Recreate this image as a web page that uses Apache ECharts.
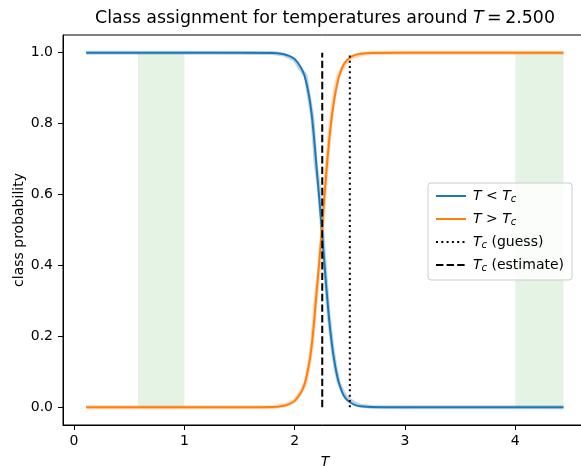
<!DOCTYPE html>
<html>
<head>
<meta charset="utf-8">
<script src="https://cdn.jsdelivr.net/npm/echarts@6/dist/echarts.min.js"></script>
<style>
  html, body { margin: 0; padding: 0; background: #fff; }
  #main { width: 581px; height: 466px; }
</style>
</head>
<body>
<div id="main"></div>
<script>
// temperatures and smoothed class probabilities
var temps = [0.11, 0.5, 1.0, 1.5, 1.8, 1.9, 1.95, 2.0, 2.05, 2.08, 2.1, 2.12, 2.14, 2.16, 2.18, 2.2, 2.22, 2.24,
             2.26, 2.28, 2.3, 2.32, 2.34, 2.36, 2.38, 2.4, 2.43, 2.46, 2.5, 2.55, 2.6, 2.7, 3.0, 3.5, 4.0, 4.437];
var probLow = [1.0, 1.0, 1.0, 1.0, 0.9995, 0.996, 0.991, 0.982, 0.962, 0.943, 0.923, 0.895, 0.86, 0.81, 0.745, 0.67, 0.6, 0.525,
               0.445, 0.365, 0.29, 0.225, 0.172, 0.13, 0.096, 0.07, 0.043, 0.026, 0.014, 0.006, 0.0026, 0.0005, 0.0, 0.0, 0.0, 0.0];
var probHigh = [0.0, 0.0, 0.0, 0.0, 0.0005, 0.004, 0.009, 0.018, 0.038, 0.057, 0.077, 0.105, 0.14, 0.19, 0.255, 0.33, 0.4, 0.475,
                0.555, 0.635, 0.71, 0.775, 0.828, 0.87, 0.904, 0.93, 0.957, 0.974, 0.986, 0.994, 0.9974, 0.9995, 1.0, 1.0, 1.0, 1.0];

// raw (noisy) probabilities drawn faintly underneath
var rawTemps = [0.11, 1.0, 1.8, 1.9, 2.0, 2.05, 2.1, 2.13, 2.16, 2.19, 2.22, 2.25, 2.28, 2.31, 2.34, 2.37, 2.4, 2.45,
                2.5, 2.55, 2.6, 2.7, 3.0, 4.437];
var rawLow = [1.0, 1.0, 0.999, 0.995, 0.98, 0.955, 0.935, 0.875, 0.82, 0.69, 0.62, 0.5, 0.37, 0.255, 0.175, 0.11, 0.07, 0.035,
              0.02, 0.01, 0.004, 0.001, 0.0, 0.0];
var rawHigh = [0.0, 0.0, 0.001, 0.004, 0.018, 0.04, 0.07, 0.12, 0.185, 0.3, 0.385, 0.5, 0.64, 0.75, 0.84, 0.9, 0.94, 0.965,
               0.985, 0.99, 0.996, 0.999, 1.0, 1.0];

// critical temperature lines
var tcGuess = 2.5;
var tcEstimate = 2.25;

// shaded training ranges
var spanStart = [0.58, 4.0];
var spanEnd = [1.0, 4.437];

var xTicks = [0, 1, 2, 3, 4];
var yTicks = [0.0, 0.2, 0.4, 0.6, 0.8, 1.0];

function pairs(xs, ys) {
    var out = [];
    for (var i = 0; i < xs.length; i++) out.push([xs[i], ys[i]]);
    return out;
}

var font = 'DejaVu Sans';
var blue = '#1f77b4';
var orange = '#ff7f0e';

var spans = [];
for (var i = 0; i < spanStart.length; i++) {
    spans.push([{xAxis: spanStart[i], yAxis: 0}, {xAxis: spanEnd[i], yAxis: 1}]);
}

var legendNames = {
    'T < Tc': '{i|T} < {i|T}{s|c}',
    'T > Tc': '{i|T} > {i|T}{s|c}',
    'Tc (guess)': '{i|T}{s|c} (guess)',
    'Tc (estimate)': '{i|T}{s|c} (estimate)'
};
var richText = {
    i: {fontStyle: 'italic', fontFamily: font, fontSize: 14, color: '#000'},
    s: {fontStyle: 'italic', fontFamily: font, fontSize: 10, color: '#000', verticalAlign: 'bottom', padding: [6, 0, 0, 0]}
};

var myChart = echarts.init(document.getElementById('main'), null, {renderer: 'canvas'});

option = {
    animation: false,
    backgroundColor: '#fff',
    title: {
        text: 'Class assignment for temperatures around {i|T}\u2009=\u20092.500',
        left: 325,
        top: 10,
        textAlign: 'center',
        padding: 0,
        textStyle: {
            fontFamily: font, fontSize: 17.4, fontWeight: 'normal', color: '#000',
            rich: {i: {fontStyle: 'italic', fontFamily: font, fontSize: 17.4, color: '#000'}}
        }
    },
    grid: {
        left: 63,
        top: 35,
        width: 524,
        height: 390,
        show: true,
        borderColor: '#000',
        borderWidth: 1,
        backgroundColor: 'transparent',
        outerBoundsMode: 'none'
    },
    legend: {
        orient: 'vertical',
        left: 428,
        top: 183,
        padding: [6, 8, 7, 7],
        itemWidth: 30,
        itemHeight: 14,
        itemGap: 8,
        backgroundColor: 'rgba(255,255,255,0.8)',
        borderColor: '#cccccc',
        borderWidth: 1,
        borderRadius: 3,
        itemStyle: {color: 'transparent', borderColor: 'transparent', borderWidth: 0, opacity: 0},
        data: ['T < Tc', 'T > Tc', 'Tc (guess)', 'Tc (estimate)'],
        formatter: function (name) { return legendNames[name]; },
        textStyle: {fontFamily: font, fontSize: 14, color: '#000', padding: [0, 0, 0, 2], rich: richText}
    },
    xAxis: {
        type: 'value',
        min: -0.1,
        max: 4.65,
        name: 'T',
        nameLocation: 'middle',
        nameGap: 30,
        nameMoveOverlap: false,
        nameTextStyle: {fontFamily: font, fontSize: 14, fontStyle: 'italic', color: '#000'},
        axisLine: {show: true, onZero: false, lineStyle: {color: '#000', width: 1}},
        axisTick: {show: true, inside: false, length: 5, customValues: xTicks, lineStyle: {color: '#000', width: 1}},
        axisLabel: {customValues: xTicks, margin: 9, fontFamily: font, fontSize: 14, color: '#000'},
        splitLine: {show: false}
    },
    yAxis: {
        type: 'value',
        min: -0.05,
        max: 1.05,
        name: 'class probability',
        nameLocation: 'middle',
        nameGap: 37,
        nameMoveOverlap: false,
        nameRotate: 90,
        nameTextStyle: {fontFamily: font, fontSize: 14, color: '#000'},
        axisLine: {show: true, onZero: false, lineStyle: {color: '#000', width: 1}},
        axisTick: {show: true, inside: false, length: 5, customValues: yTicks, lineStyle: {color: '#000', width: 1}},
        axisLabel: {
            customValues: yTicks, margin: 10, fontFamily: font, fontSize: 14, color: '#000',
            formatter: function (v) { return v.toFixed(1); }
        },
        splitLine: {show: false}
    },
    series: [
        {
            name: 'spans',
            type: 'line',
            data: [],
            z: 1,
            markArea: {
                silent: true,
                itemStyle: {color: 'rgba(44,160,44,0.12)'},
                data: spans
            }
        },
        {
            name: 'raw low', type: 'line', showSymbol: false, symbol: 'none', z: 2,
            lineStyle: {color: blue, width: 4, opacity: 0.3},
            data: pairs(rawTemps, rawLow)
        },
        {
            name: 'raw high', type: 'line', showSymbol: false, symbol: 'none', z: 2,
            lineStyle: {color: orange, width: 4, opacity: 0.3},
            data: pairs(rawTemps, rawHigh)
        },
        {
            name: 'T < Tc', type: 'line', showSymbol: false, symbol: 'none', smooth: 0.3, z: 3,
            color: blue,
            lineStyle: {color: blue, width: 2},
            data: pairs(temps, probLow)
        },
        {
            name: 'T > Tc', type: 'line', showSymbol: false, symbol: 'none', smooth: 0.3, z: 3,
            color: orange,
            lineStyle: {color: orange, width: 2},
            data: pairs(temps, probHigh)
        },
        {
            name: 'Tc (guess)', type: 'line', showSymbol: false, symbol: 'none', z: 4,
            color: '#000',
            lineStyle: {color: '#000', width: 2, type: [2, 3.3]},
            data: [[tcGuess, 0], [tcGuess, 1]]
        },
        {
            name: 'Tc (estimate)', type: 'line', showSymbol: false, symbol: 'none', z: 4,
            color: '#000',
            lineStyle: {color: '#000', width: 2, type: [7.4, 3.2]},
            data: [[tcEstimate, 0], [tcEstimate, 1]]
        }
    ]
};

myChart.setOption(option);
</script>
</body>
</html>
